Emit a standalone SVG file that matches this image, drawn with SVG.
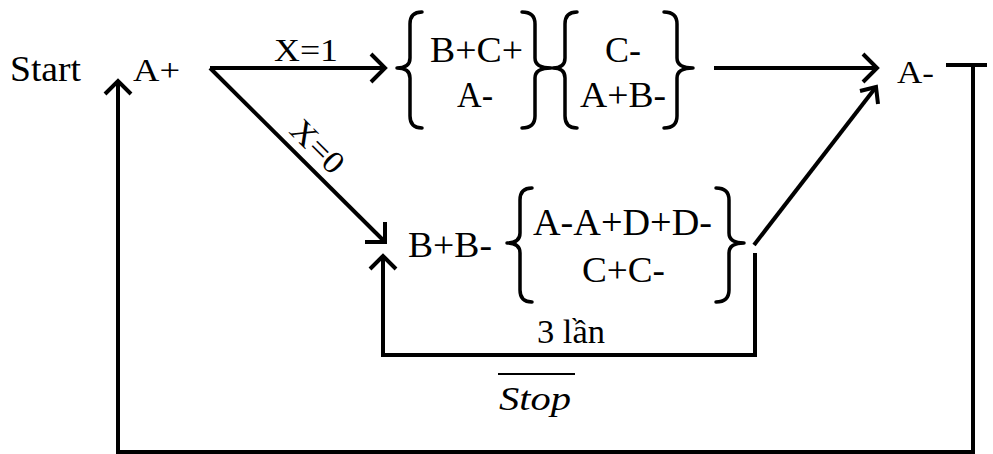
<svg xmlns="http://www.w3.org/2000/svg" width="993" height="454" viewBox="0 0 993 454">
<style>
.t{font-family:"Liberation Serif","Times New Roman",serif;fill:#000}
.ln{fill:none;stroke:#000;stroke-width:4;stroke-linecap:butt;stroke-linejoin:miter}
.br{fill:none;stroke:#000;stroke-width:3.5;stroke-linecap:round;stroke-linejoin:round}
</style>
<rect width="993" height="454" fill="#fff"/>
<g id="connectors">
  <path class="ln" d="M210,68 H385"/>
  <polyline class="ln" points="371,54 385,68 371,82"/>
  <path class="ln" d="M210,68 L385,242"/>
  <polyline class="ln" points="365,242 385,242 385,222"/>
  <path class="ln" d="M714,68 H877"/>
  <polyline class="ln" points="863,54 877,68 863,82"/>
  <path class="ln" d="M754,245 L876,87"/>
  <polyline class="ln" points="860,91 876,87 878,104"/>
  <polyline class="ln" points="755,253 755,355 383,355 383,256"/>
  <polyline class="ln" points="370,269 383,256 396,269"/>
  <polyline class="ln" points="946,65 987,65"/>
  <polyline class="ln" points="973,65 973,452 118,452 118,81"/>
  <polyline class="ln" points="105,94 118,81 131,94"/>
  <text class="t" x="274" y="61" font-size="32" textLength="64" lengthAdjust="spacingAndGlyphs">X=1</text>
  <text class="t" font-size="32" text-anchor="middle" textLength="62" lengthAdjust="spacingAndGlyphs" transform="translate(310,154) rotate(45)">X=0</text>
  <text class="t" x="537" y="343" font-size="34" textLength="68" lengthAdjust="spacingAndGlyphs">3 lần</text>
  <g id="stop-label">
    <path class="ln" d="M498,374 H575" style="stroke-width:2"/>
    <text class="t" x="499" y="410" font-size="34" font-style="italic" textLength="72" lengthAdjust="spacingAndGlyphs">Stop</text>
  </g>
</g>
<g id="start">
  <text class="t" x="10" y="81" font-size="35" textLength="71" lengthAdjust="spacingAndGlyphs">Start</text>
</g>
<g id="a-plus">
  <text class="t" x="133" y="81" font-size="32" textLength="47" lengthAdjust="spacingAndGlyphs">A+</text>
</g>
<g id="group1">
  <path class="br" d="M422,12 Q410,12 410,24 L410,58 Q410,68 397,68 Q410,68 410,78 L410,116 Q410,128 422,128"/>
  <text class="t" x="430" y="62" font-size="36" textLength="93" lengthAdjust="spacingAndGlyphs">B+C+</text>
  <text class="t" x="457" y="107" font-size="36" textLength="36" lengthAdjust="spacingAndGlyphs">A-</text>
  <path class="br" d="M522,12 Q535,12 535,24 L535,58 Q535,68 551,68 Q535,68 535,78 L535,116 Q535,128 522,128"/>
</g>
<g id="group2">
  <path class="br" d="M577,12 Q565,12 565,24 L565,58 Q565,68 553,68 Q565,68 565,78 L565,116 Q565,128 577,128"/>
  <text class="t" x="605" y="62" font-size="36" textLength="36" lengthAdjust="spacingAndGlyphs">C-</text>
  <text class="t" x="580" y="107" font-size="36" textLength="86" lengthAdjust="spacingAndGlyphs">A+B-</text>
  <path class="br" d="M664,12 Q677,12 677,24 L677,58 Q677,68 693,68 Q677,68 677,78 L677,116 Q677,128 664,128"/>
</g>
<g id="a-minus">
  <text class="t" x="897" y="83" font-size="31" textLength="37" lengthAdjust="spacingAndGlyphs">A-</text>
</g>
<g id="group3">
  <text class="t" x="408" y="257" font-size="36" textLength="84" lengthAdjust="spacingAndGlyphs">B+B-</text>
  <path class="br" d="M532,188 Q520,188 520,200 L520,233 Q520,243 507,243 Q520,243 520,253 L520,290 Q520,302 532,302"/>
  <text class="t" x="533" y="235" font-size="37" textLength="179" lengthAdjust="spacingAndGlyphs">A-A+D+D-</text>
  <text class="t" x="582" y="282" font-size="36" textLength="83" lengthAdjust="spacingAndGlyphs">C+C-</text>
  <path class="br" d="M716,188 Q729,188 729,200 L729,233 Q729,243 744,243 Q729,243 729,253 L729,290 Q729,302 716,302"/>
</g>
</svg>
